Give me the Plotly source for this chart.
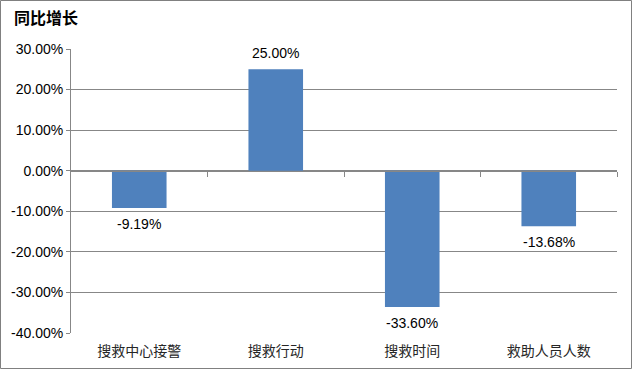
import plotly.graph_objects as go

categories = ["搜救中心接警", "搜救行动", "搜救时间", "救助人员人数"]
values = [-9.19, 25.00, -33.60, -13.68]
y_ticks = [30, 20, 10, 0, -10, -20, -30, -40]
title_text = "同比增长"

W, H = 632, 369
ML, MR, MT, MB = 71, 15, 49, 36
ymin, ymax = -40, 30
grid = "#878787"
font_fam = "Liberation Sans, Noto Sans CJK SC, sans-serif"

fig = go.Figure()
fig.add_trace(go.Bar(
    x=categories, y=values,
    marker=dict(color="#4f81bd", line=dict(width=0)),
    hoverinfo="x+y",
))
# invisible trace for helper axis
fig.add_trace(go.Scatter(x=[-0.5, len(categories) - 0.5], y=[0, 0], xaxis="x2",
                         mode="lines", line=dict(width=0), hoverinfo="skip", showlegend=False))

# data labels
for c, v in zip(categories, values):
    fig.add_annotation(x=c, y=v, text=f"{v:.2f}%", showarrow=False,
                       yanchor="bottom" if v >= 0 else "top",
                       yshift=6 if v >= 0 else -6,
                       font=dict(size=14, color="#000000", family=font_fam))

zero_pos = (0 - ymin) / (ymax - ymin)
fig.update_layout(
    width=W, height=H,
    margin=dict(l=ML, r=MR, t=MT, b=MB, autoexpand=False),
    paper_bgcolor="white", plot_bgcolor="white",
    showlegend=False,
    bargap=0.6,
    font=dict(family=font_fam, size=14, color="#000000"),
    xaxis=dict(type="category", showgrid=False, showline=False, ticks="",
               automargin=False, ticklabelstandoff=8,
               tickfont=dict(size=14, color="#262626"), zeroline=False),
    xaxis2=dict(overlaying="x", anchor="free", position=zero_pos,
                range=[-0.5, len(categories) - 0.5], automargin=False,
                showline=True, linecolor=grid, linewidth=1,
                tickvals=[i + 0.5 for i in range(len(categories))],
                ticks="outside", ticklen=5, tickcolor=grid, tickwidth=1,
                showticklabels=False, showgrid=False, zeroline=False),
    yaxis=dict(range=[ymin, ymax], tickvals=y_ticks, automargin=False,
               ticktext=[f"{v:.2f}%" for v in y_ticks],
               showgrid=True, gridcolor=grid, gridwidth=1,
               showline=True, linecolor=grid, linewidth=1,
               ticks="outside", ticklen=4, tickcolor=grid,
               zeroline=False, tickfont=dict(size=14, color="#000000")),
    title=dict(text="<b>" + title_text + "</b>", x=14 / W, xanchor="left",
               y=1 - 18 / H, yanchor="middle", automargin=False,
               font=dict(size=16, color="#000000", family=font_fam)),
)
# outer border
pw, ph = W - ML - MR, H - MT - MB
fig.add_shape(type="rect", xref="paper", yref="paper",
              x0=-(ML - 0.5) / pw, x1=1 + (MR - 0.5) / pw,
              y0=-(MB - 0.5) / ph, y1=1 + (MT - 0.5) / ph,
              line=dict(color="#808080", width=1), layer="below")

fig.write_html("out.html", config={"displayModeBar": False},
               post_script="document.body.style.margin='0';document.body.style.padding='0';document.body.style.overflow='hidden';")
